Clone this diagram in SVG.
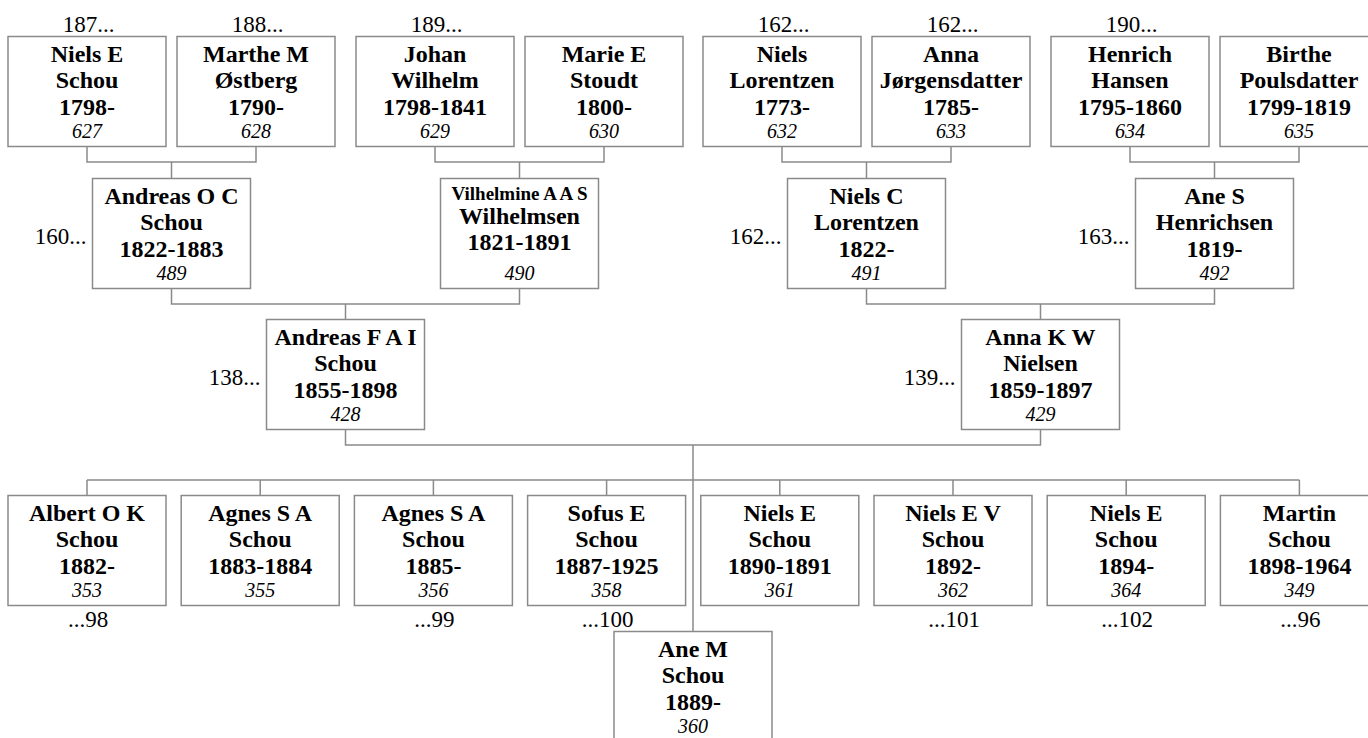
<svg xmlns="http://www.w3.org/2000/svg" width="1368" height="738" viewBox="0 0 1368 738">
<style>
.box{fill:#fff;stroke:#8a8a8a;stroke-width:1.5}
.con{fill:none;stroke:#8a8a8a;stroke-width:1.5}
.n{font-family:"Liberation Serif","Times New Roman",serif;font-weight:bold;font-size:24px;text-anchor:middle;fill:#000}
.s{font-family:"Liberation Serif","Times New Roman",serif;font-weight:bold;font-size:19px;text-anchor:middle;fill:#000}
.i{font-family:"Liberation Serif","Times New Roman",serif;font-style:italic;font-size:20px;text-anchor:middle;fill:#000}
.l{font-family:"Liberation Serif","Times New Roman",serif;font-size:23px;fill:#000}
.m{text-anchor:middle}
.e{text-anchor:end}
</style>
<rect width="1368" height="738" fill="#fff"/>
<g id="connectors">
<path class="con" d="M87 146.5V162H256V146.5M171.5 162V178.5"/>
<path class="con" d="M435 146.5V162H604V146.5M519.5 162V178.5"/>
<path class="con" d="M782 146.5V162H951V146.5M866.5 162V178.5"/>
<path class="con" d="M1130 146.5V162H1299V146.5M1214.5 162V178.5"/>
<path class="con" d="M171.5 288.5V304H519.5V288.5M345.5 304V319.5"/>
<path class="con" d="M866.5 288.5V304H1214.5V288.5M1040.5 304V319.5"/>
<path class="con" d="M345.5 429.5V445H1040.5V429.5M693 445V631.5"/>
<path class="con" d="M87 480H1299.4M87 480V495.5M260.2 480V495.5M433.4 480V495.5M606.6 480V495.5M779.8 480V495.5M953 480V495.5M1126.2 480V495.5M1299.4 480V495.5"/>
</g>
<!-- row 1 -->
<g id="p627"><rect class="box" x="8" y="36.5" width="158" height="110"/><text class="l m" x="88.5" y="32">187...</text><text class="n" x="87" y="61.5">Niels E</text><text class="n" x="87" y="88">Schou</text><text class="n" x="87" y="114.5">1798-</text><text class="i" x="87" y="137.5">627</text></g>
<g id="p628"><rect class="box" x="177" y="36.5" width="158" height="110"/><text class="l m" x="257.5" y="32">188...</text><text class="n" x="256" y="61.5">Marthe M</text><text class="n" x="256" y="88">Østberg</text><text class="n" x="256" y="114.5">1790-</text><text class="i" x="256" y="137.5">628</text></g>
<g id="p629"><rect class="box" x="356" y="36.5" width="158" height="110"/><text class="l m" x="436.5" y="32">189...</text><text class="n" x="435" y="61.5">Johan</text><text class="n" x="435" y="88">Wilhelm</text><text class="n" x="435" y="114.5">1798-1841</text><text class="i" x="435" y="137.5">629</text></g>
<g id="p630"><rect class="box" x="525" y="36.5" width="158" height="110"/><text class="n" x="604" y="61.5">Marie E</text><text class="n" x="604" y="88">Stoudt</text><text class="n" x="604" y="114.5">1800-</text><text class="i" x="604" y="137.5">630</text></g>
<g id="p632"><rect class="box" x="703" y="36.5" width="158" height="110"/><text class="l m" x="783.5" y="32">162...</text><text class="n" x="782" y="61.5">Niels</text><text class="n" x="782" y="88">Lorentzen</text><text class="n" x="782" y="114.5">1773-</text><text class="i" x="782" y="137.5">632</text></g>
<g id="p633"><rect class="box" x="872" y="36.5" width="158" height="110"/><text class="l m" x="952.5" y="32">162...</text><text class="n" x="951" y="61.5">Anna</text><text class="n" x="951" y="88">Jørgensdatter</text><text class="n" x="951" y="114.5">1785-</text><text class="i" x="951" y="137.5">633</text></g>
<g id="p634"><rect class="box" x="1051" y="36.5" width="158" height="110"/><text class="l m" x="1131.5" y="32">190...</text><text class="n" x="1130" y="61.5">Henrich</text><text class="n" x="1130" y="88">Hansen</text><text class="n" x="1130" y="114.5">1795-1860</text><text class="i" x="1130" y="137.5">634</text></g>
<g id="p635"><rect class="box" x="1220" y="36.5" width="158" height="110"/><text class="n" x="1299" y="61.5">Birthe</text><text class="n" x="1299" y="88">Poulsdatter</text><text class="n" x="1299" y="114.5">1799-1819</text><text class="i" x="1299" y="137.5">635</text></g>
<!-- row 2 -->
<g id="p489"><rect class="box" x="92.5" y="178.5" width="158" height="110"/><text class="l e" x="86.5" y="243.5">160...</text><text class="n" x="171.5" y="203.5">Andreas O C</text><text class="n" x="171.5" y="230">Schou</text><text class="n" x="171.5" y="256.5">1822-1883</text><text class="i" x="171.5" y="279.5">489</text></g>
<g id="p490"><rect class="box" x="440.5" y="178.5" width="158" height="110"/><text class="s" x="519.5" y="199.5">Vilhelmine A A S</text><text class="n" x="519.5" y="223.5">Wilhelmsen</text><text class="n" x="519.5" y="250">1821-1891</text><text class="i" x="519.5" y="279.5">490</text></g>
<g id="p491"><rect class="box" x="787.5" y="178.5" width="158" height="110"/><text class="l e" x="781.5" y="243.5">162...</text><text class="n" x="866.5" y="203.5">Niels C</text><text class="n" x="866.5" y="230">Lorentzen</text><text class="n" x="866.5" y="256.5">1822-</text><text class="i" x="866.5" y="279.5">491</text></g>
<g id="p492"><rect class="box" x="1135.5" y="178.5" width="158" height="110"/><text class="l e" x="1129.5" y="243.5">163...</text><text class="n" x="1214.5" y="203.5">Ane S</text><text class="n" x="1214.5" y="230">Henrichsen</text><text class="n" x="1214.5" y="256.5">1819-</text><text class="i" x="1214.5" y="279.5">492</text></g>
<!-- row 3 -->
<g id="p428"><rect class="box" x="266.5" y="319.5" width="158" height="110"/><text class="l e" x="260.5" y="384.5">138...</text><text class="n" x="345.5" y="344.5">Andreas F A I</text><text class="n" x="345.5" y="371">Schou</text><text class="n" x="345.5" y="397.5">1855-1898</text><text class="i" x="345.5" y="420.5">428</text></g>
<g id="p429"><rect class="box" x="961.5" y="319.5" width="158" height="110"/><text class="l e" x="955.5" y="384.5">139...</text><text class="n" x="1040.5" y="344.5">Anna K W</text><text class="n" x="1040.5" y="371">Nielsen</text><text class="n" x="1040.5" y="397.5">1859-1897</text><text class="i" x="1040.5" y="420.5">429</text></g>
<!-- children -->
<g id="p353"><rect class="box" x="8" y="495.5" width="158" height="110"/><text class="n" x="87" y="520.5">Albert O K</text><text class="n" x="87" y="547">Schou</text><text class="n" x="87" y="573.5">1882-</text><text class="i" x="87" y="596.5">353</text><text class="l m" x="88" y="627">...98</text></g>
<g id="p355"><rect class="box" x="181.2" y="495.5" width="158" height="110"/><text class="n" x="260.2" y="520.5">Agnes S A</text><text class="n" x="260.2" y="547">Schou</text><text class="n" x="260.2" y="573.5">1883-1884</text><text class="i" x="260.2" y="596.5">355</text></g>
<g id="p356"><rect class="box" x="354.4" y="495.5" width="158" height="110"/><text class="n" x="433.4" y="520.5">Agnes S A</text><text class="n" x="433.4" y="547">Schou</text><text class="n" x="433.4" y="573.5">1885-</text><text class="i" x="433.4" y="596.5">356</text><text class="l m" x="434.4" y="627">...99</text></g>
<g id="p358"><rect class="box" x="527.6" y="495.5" width="158" height="110"/><text class="n" x="606.6" y="520.5">Sofus E</text><text class="n" x="606.6" y="547">Schou</text><text class="n" x="606.6" y="573.5">1887-1925</text><text class="i" x="606.6" y="596.5">358</text><text class="l m" x="607.6" y="627">...100</text></g>
<g id="p361"><rect class="box" x="700.8" y="495.5" width="158" height="110"/><text class="n" x="779.8" y="520.5">Niels E</text><text class="n" x="779.8" y="547">Schou</text><text class="n" x="779.8" y="573.5">1890-1891</text><text class="i" x="779.8" y="596.5">361</text></g>
<g id="p362"><rect class="box" x="874" y="495.5" width="158" height="110"/><text class="n" x="953" y="520.5">Niels E V</text><text class="n" x="953" y="547">Schou</text><text class="n" x="953" y="573.5">1892-</text><text class="i" x="953" y="596.5">362</text><text class="l m" x="954" y="627">...101</text></g>
<g id="p364"><rect class="box" x="1047.2" y="495.5" width="158" height="110"/><text class="n" x="1126.2" y="520.5">Niels E</text><text class="n" x="1126.2" y="547">Schou</text><text class="n" x="1126.2" y="573.5">1894-</text><text class="i" x="1126.2" y="596.5">364</text><text class="l m" x="1127.2" y="627">...102</text></g>
<g id="p349"><rect class="box" x="1220.4" y="495.5" width="158" height="110"/><text class="n" x="1299.4" y="520.5">Martin</text><text class="n" x="1299.4" y="547">Schou</text><text class="n" x="1299.4" y="573.5">1898-1964</text><text class="i" x="1299.4" y="596.5">349</text><text class="l m" x="1300.4" y="627">...96</text></g>
<g id="p360"><rect class="box" x="614" y="631.5" width="158" height="110"/><text class="n" x="693" y="656.5">Ane M</text><text class="n" x="693" y="683">Schou</text><text class="n" x="693" y="709.5">1889-</text><text class="i" x="693" y="732.5">360</text></g>
</svg>
